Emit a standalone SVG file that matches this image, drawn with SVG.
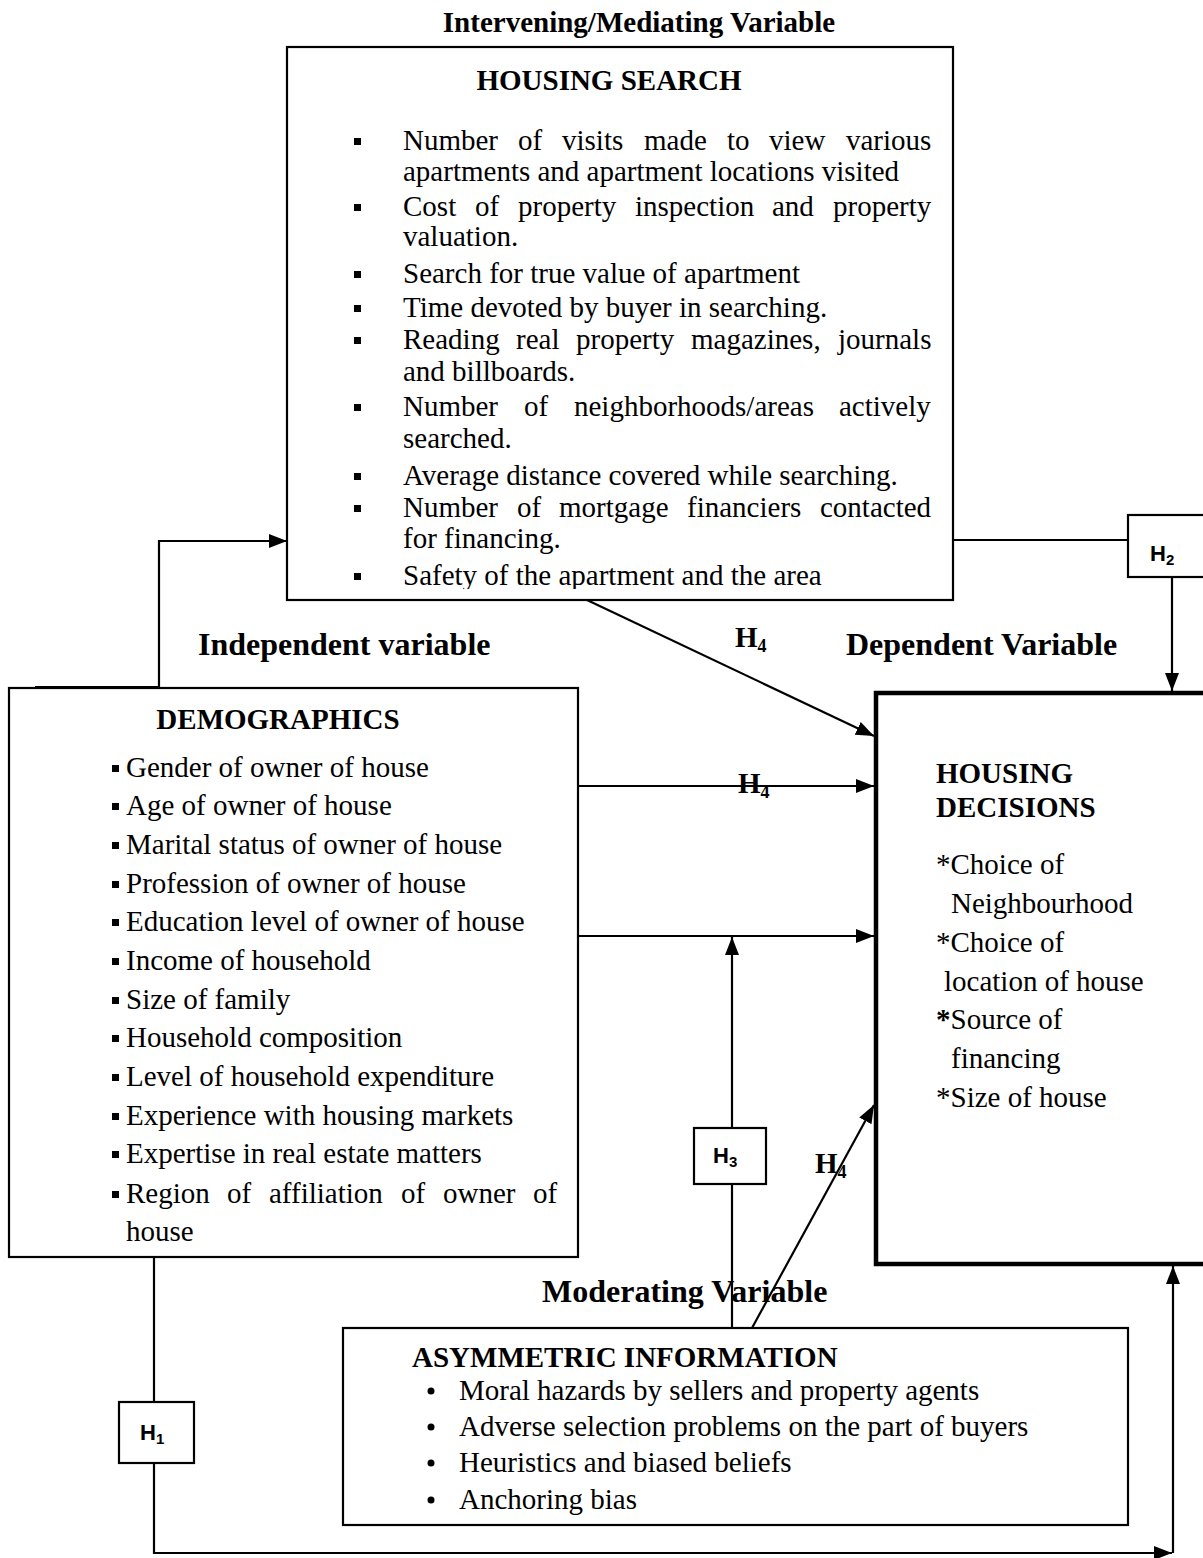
<svg xmlns="http://www.w3.org/2000/svg" width="1203" height="1558" viewBox="0 0 1203 1558">
<style>
.box{fill:#fff;stroke:#000;stroke-width:2.2}
.thick{fill:#fff;stroke:#000;stroke-width:4.5}
.t{font-family:"Liberation Serif","Times New Roman",serif;font-size:29px;fill:#000}
.b{font-family:"Liberation Serif","Times New Roman",serif;font-size:29px;font-weight:bold;fill:#000}
.v{font-family:"Liberation Serif","Times New Roman",serif;font-size:32px;font-weight:bold;fill:#000}
.h{font-family:"Liberation Sans",Arial,sans-serif;font-size:22px;font-weight:bold;fill:#000}
.sub{font-size:18px}
.hsub{font-size:15px}
.c{fill:none;stroke:#000;stroke-width:2.2}
</style>
<defs>
<marker id="arr" markerUnits="userSpaceOnUse" markerWidth="18" markerHeight="14" refX="18" refY="7" orient="auto">
<path d="M0,0 L18,7 L0,14 z" fill="#000"/>
</marker>
<clipPath id="hsclip"><rect x="288" y="48" width="664" height="541"/></clipPath>
</defs>
<rect width="1203" height="1558" fill="#fff"/>

<g id="labels">
<text class="b" x="639" y="32" text-anchor="middle">Intervening/Mediating Variable</text>
<text class="v" x="198" y="655">Independent variable</text>
<text class="v" x="846" y="655">Dependent Variable</text>
<text class="v" x="542" y="1302">Moderating Variable</text>
</g>

<g id="housing-search">
<rect class="box" x="287" y="47" width="666" height="553"/>
<text class="b" x="609" y="90" text-anchor="middle">HOUSING SEARCH</text>
<g clip-path="url(#hsclip)">
<g fill="#000">
<rect x="354" y="138" width="7" height="7"/>
<rect x="354" y="204" width="7" height="7"/>
<rect x="354" y="271" width="7" height="7"/>
<rect x="354" y="305" width="7" height="7"/>
<rect x="354" y="337" width="7" height="7"/>
<rect x="354" y="404" width="7" height="7"/>
<rect x="354" y="473" width="7" height="7"/>
<rect x="354" y="505" width="7" height="7"/>
<rect x="354" y="573" width="7" height="7"/>
</g>
<text class="t" y="150"><tspan x="403">Number</tspan><tspan x="518">of</tspan><tspan x="562">visits</tspan><tspan x="644">made</tspan><tspan x="727">to</tspan><tspan x="769">view</tspan><tspan x="846">various</tspan></text>
<text class="t" x="403" y="181">apartments and apartment locations visited</text>
<text class="t" y="216"><tspan x="403">Cost</tspan><tspan x="475">of</tspan><tspan x="518">property</tspan><tspan x="635">inspection</tspan><tspan x="772">and</tspan><tspan x="833">property</tspan></text>
<text class="t" x="403" y="246">valuation.</text>
<text class="t" x="403" y="283">Search for true value of apartment</text>
<text class="t" x="403" y="317">Time devoted by buyer in searching.</text>
<text class="t" y="349"><tspan x="403">Reading</tspan><tspan x="516">real</tspan><tspan x="576">property</tspan><tspan x="691">magazines,</tspan><tspan x="838">journals</tspan></text>
<text class="t" x="403" y="381">and billboards.</text>
<text class="t" y="416"><tspan x="403">Number</tspan><tspan x="524">of</tspan><tspan x="574">neighborhoods/areas</tspan><tspan x="839">actively</tspan></text>
<text class="t" x="403" y="448">searched.</text>
<text class="t" x="403" y="485">Average distance covered while searching.</text>
<text class="t" y="517"><tspan x="403">Number</tspan><tspan x="517">of</tspan><tspan x="559">mortgage</tspan><tspan x="687">financiers</tspan><tspan x="820">contacted</tspan></text>
<text class="t" x="403" y="548">for financing.</text>
<text class="t" x="403" y="585">Safety of the apartment and the area</text>
</g>
</g>

<g id="h2">
<rect class="box" x="1128" y="515" width="90" height="62"/>
<text class="h" x="1150" y="561">H<tspan class="hsub" dy="4">2</tspan></text>
</g>

<g id="demographics">
<rect class="box" x="9" y="688" width="569" height="569"/>
<text class="b" x="278" y="729" text-anchor="middle">DEMOGRAPHICS</text>
<g fill="#000">
<rect x="112" y="765" width="7" height="7"/>
<rect x="112" y="803" width="7" height="7"/>
<rect x="112" y="842" width="7" height="7"/>
<rect x="112" y="881" width="7" height="7"/>
<rect x="112" y="919" width="7" height="7"/>
<rect x="112" y="958" width="7" height="7"/>
<rect x="112" y="997" width="7" height="7"/>
<rect x="112" y="1035" width="7" height="7"/>
<rect x="112" y="1074" width="7" height="7"/>
<rect x="112" y="1113" width="7" height="7"/>
<rect x="112" y="1151" width="7" height="7"/>
<rect x="112" y="1191" width="7" height="7"/>
</g>
<text class="t" x="126" y="777">Gender of owner of house</text>
<text class="t" x="126" y="815">Age of owner of house</text>
<text class="t" x="126" y="854">Marital status of owner of house</text>
<text class="t" x="126" y="893">Profession of owner of house</text>
<text class="t" x="126" y="931">Education level of owner of house</text>
<text class="t" x="126" y="970">Income of household</text>
<text class="t" x="126" y="1009">Size of family</text>
<text class="t" x="126" y="1047">Household composition</text>
<text class="t" x="126" y="1086">Level of household expenditure</text>
<text class="t" x="126" y="1125">Experience with housing markets</text>
<text class="t" x="126" y="1163">Expertise in real estate matters</text>
<text class="t" y="1203"><tspan x="126">Region</tspan><tspan x="227">of</tspan><tspan x="269">affiliation</tspan><tspan x="401">of</tspan><tspan x="443">owner</tspan><tspan x="533">of</tspan></text>
<text class="t" x="126" y="1241">house</text>
</g>

<g id="housing-decisions">
<rect class="thick" x="876" y="693" width="340" height="571"/>
<text class="b" x="936" y="783">HOUSING</text>
<text class="b" x="936" y="817">DECISIONS</text>
<text class="t" x="936" y="874">*Choice of</text>
<text class="t" x="951" y="913">Neighbourhood</text>
<text class="t" x="936" y="952">*Choice of</text>
<text class="t" x="944" y="991">location of house</text>
<text class="t" x="936" y="1029"><tspan font-weight="bold">*</tspan>Source of</text>
<text class="t" x="951" y="1068">financing</text>
<text class="t" x="936" y="1107">*Size of house</text>
</g>

<g id="h3">
<rect class="box" x="694" y="1128" width="72" height="56"/>
<text class="h" x="713" y="1163">H<tspan class="hsub" dy="4">3</tspan></text>
</g>

<g id="h1">
<rect class="box" x="119" y="1402" width="75" height="61"/>
<text class="h" x="140" y="1440">H<tspan class="hsub" dy="4">1</tspan></text>
</g>

<g id="asymmetric-information">
<rect class="box" x="343" y="1328" width="785" height="197"/>
<text class="b" x="412" y="1367">ASYMMETRIC INFORMATION</text>
<g fill="#000">
<circle cx="431" cy="1391" r="3.5"/>
<circle cx="431" cy="1427" r="3.5"/>
<circle cx="431" cy="1463" r="3.5"/>
<circle cx="431" cy="1500" r="3.5"/>
</g>
<text class="t" x="459" y="1400">Moral hazards by sellers and property agents</text>
<text class="t" x="459" y="1436">Adverse selection problems on the part of buyers</text>
<text class="t" x="459" y="1472">Heuristics and biased beliefs</text>
<text class="t" x="459" y="1509">Anchoring bias</text>
</g>

<g id="connectors">
<path class="c" d="M35,687 H159 V541 H287" marker-end="url(#arr)"/>
<path class="c" d="M953,540 H1128"/>
<path class="c" d="M1172,577 V691" marker-end="url(#arr)"/>
<path class="c" d="M587,600 L874,736" marker-end="url(#arr)"/>
<path class="c" d="M578,786 H874" marker-end="url(#arr)"/>
<path class="c" d="M578,936 H874" marker-end="url(#arr)"/>
<path class="c" d="M732,1128 V937" marker-end="url(#arr)"/>
<path class="c" d="M732,1184 V1328"/>
<path class="c" d="M752,1328 L874,1105" marker-end="url(#arr)"/>
<path class="c" d="M154,1257 V1402"/>
<path class="c" d="M154,1463 V1553 H1172" marker-end="url(#arr)"/>
<path class="c" d="M1173,1553 V1266" marker-end="url(#arr)"/>
</g>

<g id="edge-labels">
<text class="b" x="735" y="647">H<tspan class="sub" dy="5">4</tspan></text>
<text class="b" x="738" y="793">H<tspan class="sub" dy="5">4</tspan></text>
<text class="b" x="815" y="1173">H<tspan class="sub" dy="5">4</tspan></text>
</g>
</svg>
